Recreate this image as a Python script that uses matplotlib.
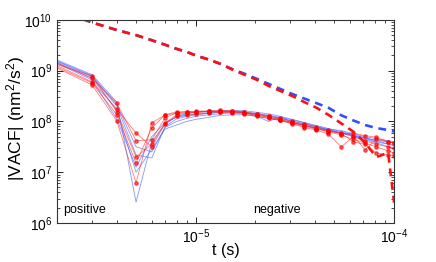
import numpy as np
import matplotlib
matplotlib.use("Agg")
import matplotlib.pyplot as plt

plt.rcParams['font.family'] = ['Liberation Sans', 'DejaVu Sans']
plt.rcParams['mathtext.fontset'] = 'custom'
plt.rcParams['mathtext.rm'] = 'Liberation Sans'
plt.rcParams['mathtext.it'] = 'Liberation Sans:italic'
plt.rcParams['mathtext.bf'] = 'Liberation Sans:bold'

# time points (s)
t = np.array([2, 3, 4, 5, 6, 7, 8, 9, 10, 11.6, 13.2, 15.3, 17.6, 20.3, 23.3, 26.7,
              30.7, 35.3, 40.6, 46.6, 54.2, 62.2, 71.4, 81.2, 93.3, 100]) * 1e-6

# thin curves, log10 |VACF|
red_curves = [
    [9.10, 8.78, 8.25, 7.77, 7.50, 7.95, 8.10, 8.12, 8.14, 8.16, 8.18, 8.18, 8.16, 8.12, 8.08, 8.03, 7.98, 7.93, 7.85, 7.80, 7.73, 7.65, 7.57, 7.50, 7.42, 7.38],
    [9.15, 8.85, 8.36, 7.62, 7.64, 8.07, 8.17, 8.19, 8.20, 8.21, 8.22, 8.20, 8.18, 8.13, 8.08, 8.02, 7.95, 7.88, 7.83, 7.75, 7.50, 7.70, 7.62, 7.55, 7.50, 7.47],
    [9.07, 8.76, 8.13, 7.18, 7.87, 8.13, 8.16, 8.17, 8.18, 8.20, 8.20, 8.19, 8.17, 8.14, 8.10, 8.04, 7.98, 7.92, 7.86, 7.80, 7.78, 7.72, 7.44, 7.65, 7.60, 7.57],
    [9.05, 8.72, 8.01, 6.79, 7.97, 8.13, 8.19, 8.19, 8.19, 8.20, 8.19, 8.17, 8.14, 8.10, 8.06, 8.02, 7.96, 7.90, 7.85, 7.83, 7.75, 7.77, 7.72, 7.69, 7.60, 7.58],
    [9.12, 8.90, 8.19, 7.30, 7.55, 7.97, 8.13, 8.16, 8.18, 8.19, 8.20, 8.21, 8.19, 8.15, 8.11, 8.06, 8.00, 7.95, 7.89, 7.82, 7.76, 7.60, 7.55, 7.38, 7.34, 7.32],
]
blue_curves = [
    [9.21, 8.92, 8.38, 6.41, 7.60, 7.95, 8.10, 8.15, 8.18, 8.20, 8.21, 8.22, 8.21, 8.18, 8.15, 8.10, 8.04, 7.98, 7.92, 7.86, 7.80, 7.74, 7.68, 7.62, 7.56, 7.53],
    [9.18, 8.88, 8.30, 7.34, 7.28, 7.90, 8.05, 8.10, 8.13, 8.16, 8.18, 8.20, 8.18, 8.10, 8.00, 8.09, 7.98, 7.93, 7.88, 7.84, 7.78, 7.72, 7.66, 7.60, 7.55, 7.52],
    [9.16, 8.85, 8.22, 7.00, 7.45, 7.85, 7.93, 8.00, 8.04, 8.08, 8.12, 8.13, 8.13, 8.10, 8.06, 8.02, 7.97, 7.92, 7.87, 7.82, 7.77, 7.72, 7.67, 7.63, 7.60, 7.58],
    [9.19, 8.90, 8.33, 7.50, 7.40, 7.88, 8.00, 8.06, 8.10, 8.13, 8.15, 8.17, 8.17, 8.14, 8.11, 8.06, 8.01, 7.95, 7.90, 7.85, 7.82, 7.76, 7.70, 7.66, 7.62, 7.60],
    [9.14, 8.82, 8.05, 7.10, 7.70, 7.98, 8.08, 8.12, 8.15, 8.17, 8.19, 8.19, 8.18, 8.16, 8.12, 8.08, 8.03, 7.97, 7.90, 7.83, 7.77, 7.70, 7.64, 7.58, 7.50, 7.46],
]

# thick dashed curves, log10
red_dashed = [10.2, 9.95, 9.80, 9.70, 9.60, 9.51, 9.43, 9.37, 9.30, 9.22, 9.14, 9.02, 8.92, 8.82, 8.70, 8.60,
              8.50, 8.38, 8.27, 8.13, 7.96, 7.80, 7.58, 7.30, 7.38, 6.40]
blue_dashed = [10.2, 9.95, 9.80, 9.70, 9.60, 9.51, 9.43, 9.37, 9.30, 9.22, 9.14, 9.03, 8.94, 8.84, 8.74, 8.64,
               8.54, 8.45, 8.36, 8.27, 8.12, 8.02, 7.93, 7.87, 7.83, 7.80]

fig = plt.figure(figsize=(4.36, 2.62), dpi=100)
ax = fig.add_axes([0.131, 0.149, 0.773, 0.775])

for c in blue_curves:
    ax.plot(t, 10 ** np.array(c), color='#4060ff', lw=0.6, alpha=0.65)
for c in red_curves:
    ax.plot(t, 10 ** np.array(c), color='#ff2020', lw=0.6, alpha=0.6,
            marker='o', ms=2.4, mfc='red', mec='red', markevery=slice(1, None))

ax.plot(t, 10 ** np.array(blue_dashed), color='#3050ff', lw=1.9, dashes=(3, 2.2))
ax.plot(t, 10 ** np.array(red_dashed), color='#ff1010', lw=1.9, dashes=(3, 2.2))

ax.set_xscale('log')
ax.set_yscale('log')
ax.set_xlim(2e-6, 1e-4)
ax.set_ylim(1e6, 1e10)
ax.set_yticks([1e6, 1e7, 1e8, 1e9, 1e10])
ax.set_xticks([1e-5, 1e-4])

ax.tick_params(which='both', direction='in', top=True, right=True, labelsize=10)
ax.tick_params(which='major', length=4, width=0.6)
ax.tick_params(which='minor', length=2, width=0.5)
for s in ax.spines.values():
    s.set_linewidth(0.8)
    s.set_color('#333333')

ax.set_xlabel('t (s)', fontsize=11.5)
ax.set_ylabel(r'|VACF| (nm$^2$/s$^2$)', fontsize=12.5)
ax.yaxis.set_label_coords(-0.09, 0.517)
ax.xaxis.set_label_coords(0.5, -0.1)

ax.text(2.15e-6, 1.6e6, 'positive', fontsize=9)
ax.text(1.95e-5, 1.6e6, 'negative', fontsize=9)

fig.savefig('out.png', dpi=100)
